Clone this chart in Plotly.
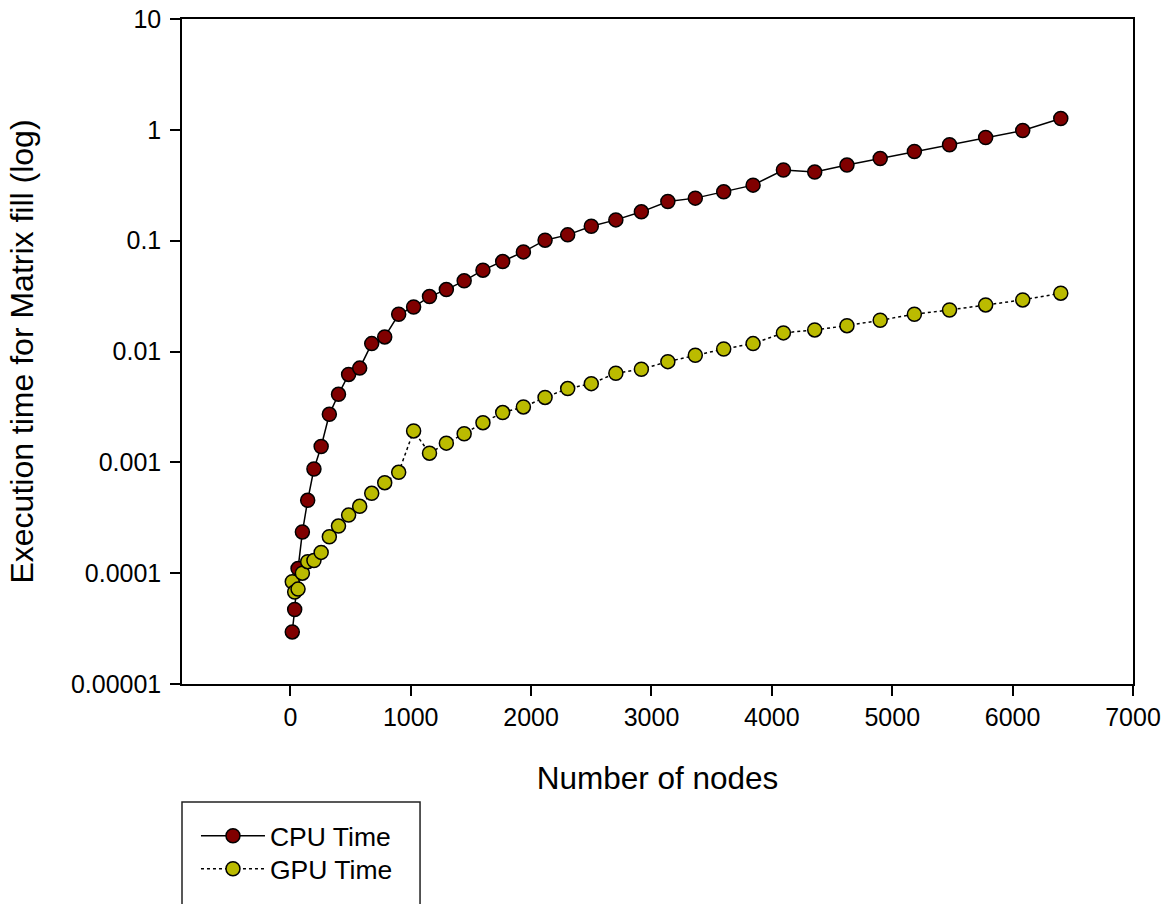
import plotly.graph_objects as go

# Number of nodes (shared x values)
nodes = [16, 36, 64, 100, 144, 196, 256, 324, 400, 484, 576, 676, 784, 900,
         1024, 1156, 1296, 1444, 1600, 1764, 1936, 2116, 2304, 2500, 2704,
         2916, 3136, 3364, 3600, 3844, 4096, 4356, 4624, 4900, 5184, 5476,
         5776, 6084, 6400]

cpu_time = [2.95e-5, 4.70e-5, 1.10e-4, 2.35e-4, 4.54e-4, 8.7e-4, 1.39e-3,
            2.71e-3, 4.11e-3, 6.21e-3, 7.08e-3, 0.01178, 0.01353, 0.02168,
            0.0252, 0.0313, 0.0362, 0.0434, 0.0542, 0.0648, 0.0792, 0.101,
            0.1128, 0.135, 0.154, 0.182, 0.2255, 0.242, 0.276, 0.317, 0.434,
            0.416, 0.481, 0.551, 0.638, 0.733, 0.853, 0.986, 1.265]

gpu_time = [8.36e-5, 6.75e-5, 7.18e-5, 1.0e-4, 1.27e-4, 1.30e-4, 1.54e-4,
            2.13e-4, 2.66e-4, 3.34e-4, 4.01e-4, 5.25e-4, 6.55e-4, 8.13e-4,
            1.92e-3, 1.21e-3, 1.49e-3, 1.81e-3, 2.28e-3, 2.81e-3, 3.16e-3,
            3.85e-3, 4.63e-3, 5.13e-3, 6.37e-3, 6.92e-3, 8.10e-3, 9.25e-3,
            0.01054, 0.01178, 0.01472, 0.01566, 0.0171, 0.01914, 0.0217,
            0.0237, 0.0263, 0.0292, 0.0336]

x_ticks = [0, 1000, 2000, 3000, 4000, 5000, 6000, 7000]
y_ticks = [1e-5, 1e-4, 1e-3, 1e-2, 1e-1, 1, 10]
y_ticktext = ["0.00001", "0.0001", "0.001", "0.01", "0.1", "1", "10"]

FONT = "Liberation Sans, Arial, sans-serif"

fig = go.Figure()
fig.add_trace(go.Scatter(
    x=nodes, y=cpu_time, name="CPU Time", mode="lines+markers",
    line=dict(color="black", width=1.5, dash="solid"),
    marker=dict(size=14, color="#800000", line=dict(color="black", width=1.5)),
    legend="legend",
))
fig.add_trace(go.Scatter(
    x=nodes, y=gpu_time, name="GPU Time", mode="lines+markers",
    line=dict(color="black", width=1.5, dash="dot"),
    marker=dict(size=14, color="#BBBB00", line=dict(color="black", width=1.5)),
    legend="legend2",
))

legend_common = dict(
    xanchor="left", yanchor="top",
    bgcolor="rgba(0,0,0,0)", borderwidth=0,
    itemwidth=64, font=dict(size=26.5, family=FONT),
)

fig.update_layout(
    width=1170, height=904,
    margin=dict(l=182, r=37, t=19, b=220, autoexpand=False),
    paper_bgcolor="white", plot_bgcolor="white",
    font=dict(family=FONT, color="black", size=25),
    showlegend=True,
    legend=dict(x=0.0147, y=-0.1925, **legend_common),
    legend2=dict(x=0.0147, y=-0.2421, **legend_common),
    shapes=[dict(
        type="rect", xref="paper", yref="paper",
        x0=0.0, x1=0.2503, y0=-0.1774, y1=-0.345,
        line=dict(color="#222222", width=1.5), fillcolor="rgba(0,0,0,0)",
    )],
)

fig.update_xaxes(
    range=[-900, 7000], tickvals=x_ticks,
    ticks="outside", ticklen=10, tickwidth=1.5, tickcolor="black",
    showline=True, linecolor="black", linewidth=1.5, mirror=True,
    showgrid=False, zeroline=False, automargin=False,
    tickfont=dict(size=25, family=FONT),
    title=dict(text="Number of nodes", font=dict(size=31.5, family=FONT), standoff=37),
)
fig.update_yaxes(
    type="log", range=[-5, 1], tickvals=y_ticks, ticktext=y_ticktext,
    ticks="outside", ticklen=10, tickwidth=1.5, tickcolor="black",
    showline=True, linecolor="black", linewidth=1.5, mirror=True,
    showgrid=False, zeroline=False, automargin=False,
    tickfont=dict(size=25, family=FONT),
    ticklabelstandoff=4,
    title=dict(text="Execution time for Matrix fill (log)", font=dict(size=32, family=FONT), standoff=28),
)

fig.write_html("out.html")
